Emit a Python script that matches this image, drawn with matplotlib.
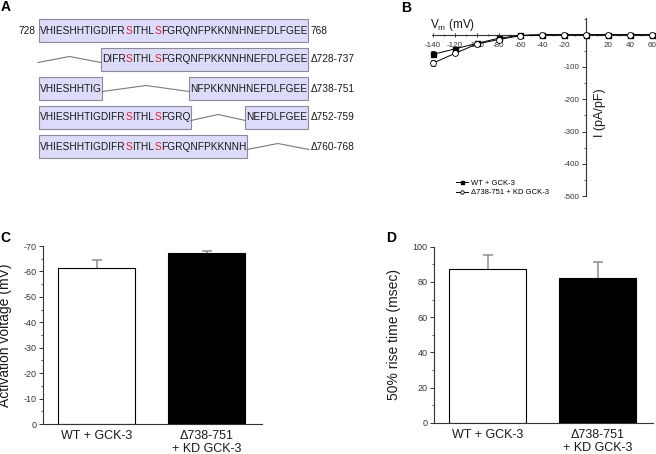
import matplotlib
matplotlib.use('Agg')
import matplotlib.pyplot as plt
from matplotlib.patches import Rectangle
from matplotlib.font_manager import FontProperties
from matplotlib.ticker import FuncFormatter, MultipleLocator
import numpy as np

plt.rcParams['font.family'] = ['Liberation Sans', 'DejaVu Sans']
plt.rcParams['axes.unicode_minus'] = False

# ---- data ----
# A: C-terminal sequence and deletion constructs
sequence = 'VHIESHHTIGDIFRSITHLSFGRQNFPKKNNHNEFDLFGEE'
first_residue = 728
phospho_sites = [742, 747]
deletions = [None, (728, 737), (738, 751), (752, 759), (760, 768)]
row_labels = ['768', '\u0394728-737', '\u0394738-751', '\u0394752-759', '\u0394760-768']

# B: I-V relation
vm = [-140, -120, -100, -80, -60, -40, -20, 0, 20, 40, 60]
i_wt = [-61, -44, -27, -11, -2, 0, 0, 0, 0, 0, 0]
i_wt_err = [9, 6, 3, 2, 1, 1, 1, 1, 1, 1, 1]
i_kd = [-88, -58, -29, -15, -3, 0, 0, 0, 0, 0, 0]
i_kd_err = [10, 6, 3, 3, 1, 1, 1, 1, 1, 1, 1]
series_labels = ['WT + GCK-3', '\u0394738-751 + KD GCK-3']

# C, D: bar charts
groups = ['WT + GCK-3', '\u0394738-751\n+ KD GCK-3']
act_v = [-61.5, -67.4]
act_v_err = [3.0, 0.7]
rise_time = [87.6, 82.4]
rise_time_err = [7.6, 8.9]

W, H = 656, 454
fig = plt.figure(figsize=(W / 100, H / 100), dpi=100)


def px_box(x0, y0, x1, y1):
    # pixel box (top-left origin) -> figure fraction rect
    return [x0 / W, 1 - y1 / H, (x1 - x0) / W, (y1 - y0) / H]


# ---- panel A ----
ax_a = fig.add_axes(px_box(0, 0, 330, 170))
ax_a.set_xlim(0, 330)
ax_a.set_ylim(170, 0)
ax_a.axis('off')

seq_size = 7.3
seq_font = FontProperties(family=['Liberation Sans'], size=seq_size)
renderer = fig.canvas.get_renderer()


def text_px(s):
    if not s:
        return 0.0
    w, h, d = renderer.get_text_width_height_descent(s, seq_font, ismath=False)
    return w


n = len(sequence)
x_start = 40
# ink extent of every residue as it sits in the full string
ink_right = [x_start + text_px(sequence[:k + 1]) for k in range(n)]
ink_left = [ink_right[k] - text_px(sequence[k]) for k in range(n)]
bounds = [x_start - 0.5] + [(ink_right[k - 1] + ink_left[k]) / 2 for k in range(1, n)] + [ink_right[-1] + 0.5]
red_idx = [p - first_residue for p in phospho_sites]

for r, (dele, lab) in enumerate(zip(deletions, row_labels)):
    y = 30.5 + 29 * r
    if dele is None:
        segs = [(0, n)]
    else:
        d0, d1 = dele[0] - first_residue, dele[1] - first_residue + 1
        segs = [s for s in [(0, d0), (d1, n)] if s[1] > s[0]]
        xl = bounds[d0] + 0.5 if d0 > 0 else bounds[0] - 1.5
        xr = bounds[d1] - 1 if d1 < n else bounds[n] + 1
        ax_a.plot([xl, (xl + xr) / 2, xr], [y + 3, y - 3, y + 3],
                  color='#7a7a7a', lw=0.8)
    for a, b in segs:
        ax_a.add_patch(Rectangle((bounds[a] - 1, y - 11.5), bounds[b] - bounds[a] + 1.5, 23,
                                 facecolor='#dcdcfa', edgecolor='#8a8a9a', lw=0.8))
        k = a
        while k < b:
            red = k in red_idx
            j = k + 1
            while j < b and j not in red_idx and not red:
                j += 1
            ax_a.text(ink_left[k], y, sequence[k:j], fontsize=seq_size, va='center', ha='left',
                      color='#e8202a' if red else '#1a1a1a')
            k = j
    ax_a.text(bounds[n] + 2.5, y, lab, fontsize=seq_size, va='center', ha='left', color='#1a1a1a')
ax_a.text(bounds[0] - 3.5, 30.5, str(first_residue), fontsize=seq_size, va='center', ha='right',
          color='#1a1a1a')

# ---- panel B ----
ax_b = fig.add_axes(px_box(431.9, 17.9, 653.9, 196.2))
ax_b.set_xlim(-141, 62)
ax_b.set_ylim(-500, 52)
for s in ['top', 'right']:
    ax_b.spines[s].set_visible(False)
ax_b.spines['left'].set_position(('data', 0))
ax_b.spines['bottom'].set_position(('data', 0))
for s in ['left', 'bottom']:
    ax_b.spines[s].set_color('#333333')
    ax_b.spines[s].set_linewidth(0.8)
ax_b.set_xticks(np.arange(-140, 61, 20))
ax_b.xaxis.set_minor_locator(MultipleLocator(10))
ax_b.set_yticks(np.arange(-500, 1, 100))
ax_b.yaxis.set_minor_locator(MultipleLocator(50))
hide_zero = FuncFormatter(lambda v, p: '' if abs(v) < 1e-9 else '%d' % v)
ax_b.xaxis.set_major_formatter(hide_zero)
ax_b.yaxis.set_major_formatter(hide_zero)
ax_b.tick_params(axis='x', which='major', direction='inout', length=3, width=0.7, labelsize=5.8,
                 pad=3.5, colors='#333333')
ax_b.tick_params(axis='x', which='minor', direction='inout', length=1.5, width=0.6, colors='#333333')
ax_b.tick_params(axis='y', which='major', direction='out', length=3, width=0.7, labelsize=5.8,
                 pad=1.5, colors='#333333')
ax_b.tick_params(axis='y', which='minor', direction='out', length=1.5, width=0.6, colors='#333333')
ax_b.patch.set_alpha(0)

for vals, errs in [(i_kd, i_kd_err), (i_wt, i_wt_err)]:
    eb = ax_b.errorbar(vm, vals, yerr=errs, fmt='none', ecolor='black', elinewidth=0.6,
                       capsize=1.5, capthick=0.6, zorder=3)
    for art in eb.lines[1] + eb.lines[2]:
        art.set_clip_on(False)
ax_b.plot(vm, i_wt, '-s', color='black', ms=3.6, lw=0.7, mfc='black', mec='black',
          label=series_labels[0], zorder=4, clip_on=False)
ax_b.plot(vm, i_kd, '-o', color='black', ms=4.2, lw=0.7, mfc='white', mec='black', mew=0.6,
          label=series_labels[1], zorder=4, clip_on=False)
ax_b.text(-143, 30, r'V$_\mathregular{m}$ (mV)', fontsize=8.5, ha='left', va='center', color='#1a1a1a')
ax_b.text(13, -240, 'I (pA/pF)', fontsize=9, rotation=90, ha='center', va='center', color='#1a1a1a')
ax_b.legend(loc='upper left', bbox_to_anchor=(452 / W, 1 - 176 / H), bbox_transform=fig.transFigure,
            frameon=False, fontsize=5.5, handlelength=1.6, handletextpad=0.4, labelspacing=0.25,
            borderpad=0, markerscale=0.6)


# ---- panels C and D ----
def bar_panel(ax, values, errs, ylim, major, minor, ylabel, label_x):
    ax.errorbar([0, 1], values, yerr=errs, fmt='none', ecolor='#8c8c8c', elinewidth=1.1,
                capsize=3.5, capthick=1.1, zorder=1)
    ax.bar([0, 1], values, width=0.7, color=['white', 'black'], edgecolor='black', linewidth=0.8,
           zorder=2)
    ax.set_xlim(-0.49, 1.5)
    ax.set_ylim(*ylim)
    ax.set_xticks([0, 1])
    ax.set_xticklabels(groups, fontsize=9, color='#1a1a1a')
    ax.yaxis.set_major_locator(MultipleLocator(major))
    ax.yaxis.set_minor_locator(MultipleLocator(minor))
    ax.tick_params(axis='x', length=0, pad=4)
    ax.tick_params(axis='y', which='major', length=3, width=0.7, labelsize=6.5, pad=1.5,
                   colors='#333333')
    ax.tick_params(axis='y', which='minor', length=1.5, width=0.6, colors='#333333')
    for s in ['top', 'right']:
        ax.spines[s].set_visible(False)
    for s in ['left', 'bottom']:
        ax.spines[s].set_color('#333333')
        ax.spines[s].set_linewidth(0.8)
    ax.set_ylabel(ylabel, fontsize=10, color='#1a1a1a')
    ax.yaxis.set_label_coords(label_x, 0.5)


ax_c = fig.add_axes(px_box(42.7, 246, 262, 424))
bar_panel(ax_c, act_v, act_v_err, (0, -70), 10, 5, 'Activation voltage (mV)', -0.138)

ax_d = fig.add_axes(px_box(434, 246.7, 653, 423))
bar_panel(ax_d, rise_time, rise_time_err, (0, 100), 20, 10, '50% rise time (msec)', -0.151)

# panel letters
for letter, (x, y) in zip('ABCD', [(5.5, 6.7), (406, 7.5), (5, 237.5), (391, 238)]):
    fig.text(x / W, 1 - y / H, letter, fontsize=10, fontweight='bold', ha='center', va='center')

fig.savefig('out.png', dpi=100)
